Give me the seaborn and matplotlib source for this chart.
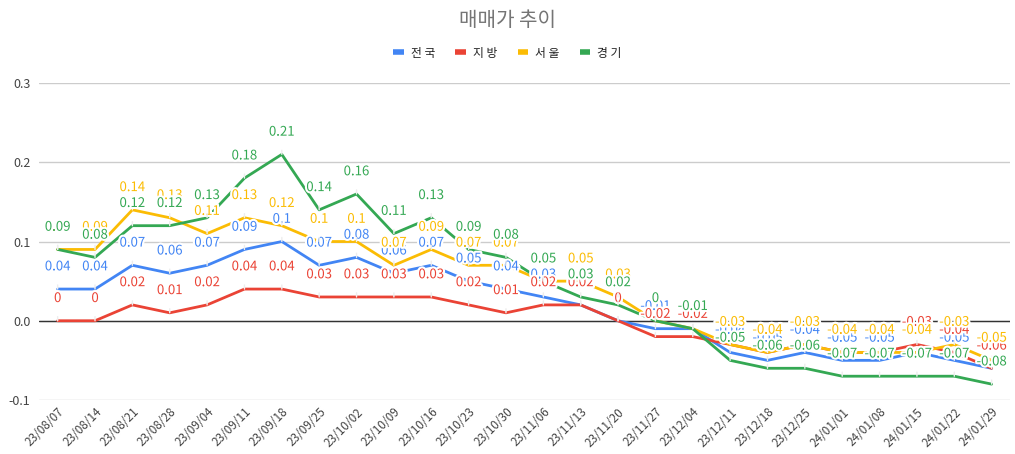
import pandas as pd
import seaborn as sns
import matplotlib.pyplot as plt
import matplotlib.patheffects as pe
from matplotlib.lines import Line2D

dates = ["23/08/07", "23/08/14", "23/08/21", "23/08/28", "23/09/04", "23/09/11",
         "23/09/18", "23/09/25", "23/10/02", "23/10/09", "23/10/16", "23/10/23",
         "23/10/30", "23/11/06", "23/11/13", "23/11/20", "23/11/27", "23/12/04",
         "23/12/11", "23/12/18", "23/12/25", "24/01/01", "24/01/08", "24/01/15",
         "24/01/22", "24/01/29"]

nationwide = [0.04, 0.04, 0.07, 0.06, 0.07, 0.09, 0.1, 0.07, 0.08, 0.06, 0.07, 0.05, 0.04,
              0.03, 0.02, 0, -0.01, -0.01, -0.04, -0.05, -0.04, -0.05, -0.05, -0.04, -0.05, -0.06]
local = [0, 0, 0.02, 0.01, 0.02, 0.04, 0.04, 0.03, 0.03, 0.03, 0.03, 0.02, 0.01,
         0.02, 0.02, 0, -0.02, -0.02, -0.03, -0.04, -0.03, -0.04, -0.04, -0.03, -0.04, -0.06]
seoul = [0.09, 0.09, 0.14, 0.13, 0.11, 0.13, 0.12, 0.1, 0.1, 0.07, 0.09, 0.07, 0.07,
         0.05, 0.05, 0.03, 0, -0.01, -0.03, -0.04, -0.03, -0.04, -0.04, -0.04, -0.03, -0.05]
gyeonggi = [0.09, 0.08, 0.12, 0.12, 0.13, 0.18, 0.21, 0.14, 0.16, 0.11, 0.13, 0.09, 0.08,
            0.05, 0.03, 0.02, 0, -0.01, -0.05, -0.06, -0.06, -0.07, -0.07, -0.07, -0.07, -0.08]

series_names = ["전국", "지방", "서울", "경기"]
series_values = [nationwide, local, seoul, gyeonggi]
colors = ["#4285F4", "#EA4335", "#FBBC04", "#34A853"]

rows = []
for name, vals in zip(series_names, series_values):
    for d, v in zip(dates, vals):
        rows.append({"date": d, "value": v, "series": name})
df = pd.DataFrame(rows)

sns.set_style("white")
plt.rcParams['font.family'] = ['Noto Sans CJK KR', 'DejaVu Sans']

fig = plt.figure(figsize=(10.15, 4.54), dpi=100)
ax = fig.add_axes([0.0384, 0.119, 0.957, 0.698])

sns.lineplot(data=df, x="date", y="value", hue="series", hue_order=series_names,
             palette=colors, linewidth=2, sort=False, legend=False, ax=ax)

# data labels above each point, drawn in series order so later ones cover earlier
for name, vals, c in zip(series_names, series_values, colors):
    for i, v in enumerate(vals):
        txt = f"{v:g}" if v != 0 else "0"
        ax.annotate(txt, xy=(i, v), xytext=(0, 16), textcoords="offset points",
                    ha="center", va="center", fontsize=9.5, color=c,
                    path_effects=[pe.withStroke(linewidth=3, foreground="white")],
                    arrowprops=dict(arrowstyle="-", color="#ededed", lw=1,
                                    shrinkA=6, shrinkB=0),
                    zorder=5)

ax.set_xlim(-0.5, len(dates) - 0.5)
ax.set_ylim(-0.1, 0.3)
ax.set_yticks([-0.1, 0.0, 0.1, 0.2, 0.3])
ax.set_yticklabels(["-0.1", "0.0", "0.1", "0.2", "0.3"])
ax.set_xticks(range(len(dates)))
ax.set_xticklabels(dates, rotation=45, ha="right", rotation_mode="anchor")
ax.tick_params(axis="x", labelsize=8.5, colors="#444444", length=0, pad=4)
ax.tick_params(axis="y", labelsize=9, colors="#444444", length=0, pad=6)
ax.grid(axis="y", color="#cccccc", linewidth=1)
ax.axhline(0, color="#333333", linewidth=1, zorder=1)
for s in ax.spines.values():
    s.set_visible(False)
ax.set_xlabel("")
ax.set_ylabel("")

fig.text(0.5, 0.955, "매매가 추이", ha="center", va="center", fontsize=14.5, color="#757575")

handles = [Line2D([0], [0], color=c, lw=4, solid_capstyle="butt") for c in colors]
labels = [" ".join(n) for n in series_names]
fig.legend(handles, labels, loc="center", bbox_to_anchor=(0.5, 0.883), ncol=4,
           frameon=False, handlelength=0.9, handletextpad=0.6, columnspacing=1.7,
           fontsize=8.5, labelcolor="#222222")

fig.savefig("out.png", dpi=100)
